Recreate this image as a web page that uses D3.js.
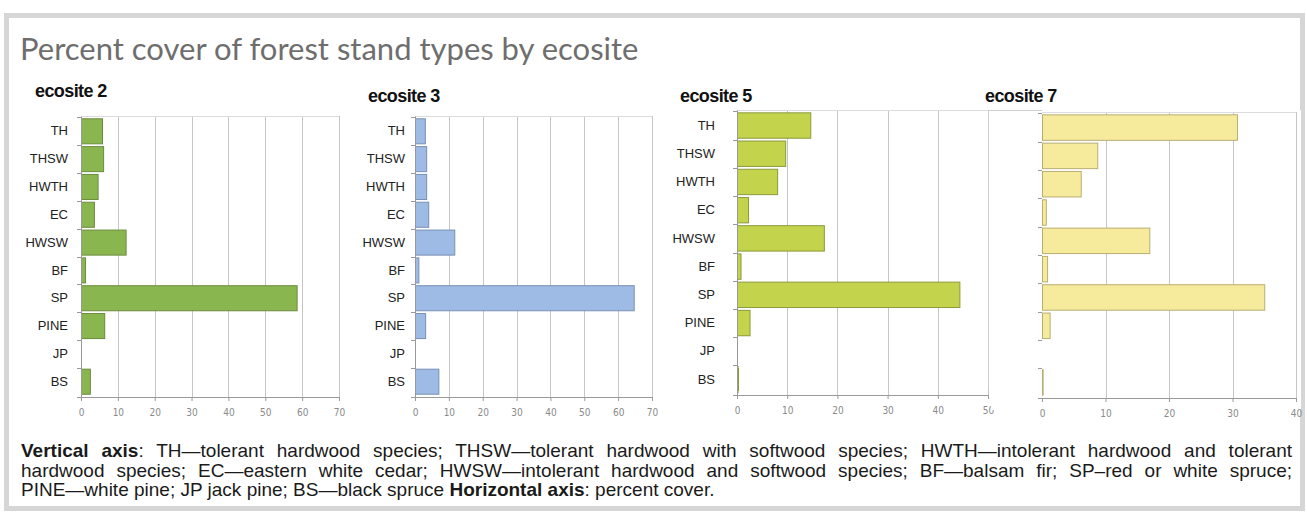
<!DOCTYPE html>
<html><head><meta charset="utf-8">
<script src="https://cdn.jsdelivr.net/npm/d3@7"></script>
<style>
body{margin:0;background:#fff;}
svg text{font-family:"Liberation Sans",Arial,sans-serif;}
#cap{position:absolute;left:21px;top:441px;width:1271px;font-family:"Liberation Sans",Arial,sans-serif;font-size:19px;line-height:19.5px;color:#1a1a1a;}
#cap div.j{text-align:justify;text-align-last:justify;white-space:nowrap;}
#cap b{font-weight:bold;}
</style></head><body>
<svg id="c" width="1307" height="519" style="position:absolute;left:0;top:0"></svg>
<div id="cap"></div>
<script>
const categories = ["TH","THSW","HWTH","EC","HWSW","BF","SP","PINE","JP","BS"];
const ecosite2 = [5.7,6.0,4.5,3.5,12.1,1.1,58.5,6.3,0,2.4];
const ecosite3 = [2.9,3.3,3.3,3.9,11.6,1.0,64.6,3.0,0,6.9];
const ecosite5 = [14.6,9.6,8.0,2.2,17.3,0.7,44.3,2.5,0,0.2];
const ecosite7 = [30.7,8.7,6.1,0.6,16.9,0.8,35.0,1.2,0,0.1];
const panelTitles = ["ecosite 2","ecosite 3","ecosite 5","ecosite 7"];
const ticks2 = [0,10,20,30,40,50,60,70];
const ticks3 = [0,10,20,30,40,50,60,70];
const ticks5 = [0,10,20,30,40,50];
const ticks7 = [0,10,20,30,40];
const titleText = "Percent cover of forest stand types by ecosite";

const svg = d3.select("#c");
svg.append("rect").attr("x",6.5).attr("y",15.5).attr("width",1296).attr("height",493)
  .attr("fill","#fff").attr("stroke","#d6d6d6").attr("stroke-width",5);
svg.append("text").attr("x",20).attr("y",60).text(titleText)
  .style("font-family","Lato, 'Open Sans', sans-serif").style("font-size","31px")
  .attr("fill","#6e6e6e");

const panels = [
  {values:ecosite2, ticks:ticks2, title:panelTitles[0], x0:81, x1:339, top:116, bottom:397, labPad:13, titleX:35, titleY:97,
   fill:"#8ab64f", stroke:"#6b8c3c"},
  {values:ecosite3, ticks:ticks3, title:panelTitles[1], x0:415, x1:652, top:116, bottom:397, labPad:10, titleX:368, titleY:102,
   fill:"#9dbbe4", stroke:"#7890b4"},
  {values:ecosite5, ticks:ticks5, title:panelTitles[2], x0:737, x1:988, top:110, bottom:395, labPad:22, titleX:680, titleY:102,
   fill:"#c3d34c", stroke:"#8c9a3c"},
  {values:ecosite7, ticks:ticks7, title:panelTitles[3], x0:1042, x1:1296, top:112, bottom:398, labPad:9, titleX:985, titleY:102,
   fill:"#f6eb9d", stroke:"#b9ae72", panel:true}
];

svg.append("defs").append("clipPath").attr("id","clip7")
  .append("rect").attr("x",994).attr("y",100).attr("width",310).attr("height",340);

panels.forEach((p,i)=>{
  const g = svg.append("g");
  if(p.panel){
    g.append("rect").attr("x",991).attr("y",110).attr("width",310).attr("height",300).attr("fill","#fff");
    g.append("path").attr("d","M988.5,388V110.5H"+p.x0).attr("fill","none").attr("stroke","#cfcfcf");
  }
  g.append("text").attr("x",p.titleX).attr("y",p.titleY).text(p.title)
    .style("font-size","18px").style("font-weight","bold").style("letter-spacing","-0.6px").attr("fill","#111");
  const x = d3.scaleLinear().domain([0,d3.max(p.ticks)]).range([p.x0,p.x1]);
  const y = d3.scaleBand().domain(categories).range([p.top,p.bottom]).padding(0.1);
  g.selectAll(".grid").data(p.ticks.filter(t=>t>0)).join("line")
    .attr("x1",d=>Math.round(x(d))+0.5).attr("x2",d=>Math.round(x(d))+0.5)
    .attr("y1",p.top).attr("y2",p.bottom).attr("stroke","#c6c6c6");
  g.append("line").attr("x1",p.x0).attr("x2",p.x1).attr("y1",p.top+0.5).attr("y2",p.top+0.5).attr("stroke","#dcdcdc");
  g.selectAll(".bar").data(categories.map((c,k)=>({c,v:p.values[k]}))).join("rect")
    .attr("x",x(0)+0.5).attr("y",d=>y(d.c)).attr("height",y.bandwidth())
    .attr("width",d=>Math.max(0,x(d.v)-x(0))).attr("fill",p.fill)
    .attr("stroke",d=>d.v>0?p.stroke:"none").attr("stroke-width",1);
  const xa = g.append("g").attr("transform",`translate(0,${p.bottom})`)
    .call(d3.axisBottom(x).tickValues(p.ticks).tickSize(4).tickPadding(8).tickSizeOuter(0));
  xa.select(".domain").attr("stroke","#9a9a9a");
  xa.selectAll(".tick line").attr("stroke","#9a9a9a");
  xa.selectAll("text").style("font-size","10px").attr("fill","#8a8a8a")
    .style("font-family","'Liberation Sans Narrow','DejaVu Sans Condensed',sans-serif");
  const ya = g.append("g").attr("transform",`translate(${p.x0},0)`)
    .call(d3.axisLeft(y).tickSize(0).tickPadding(p.labPad));
  ya.select(".domain").attr("stroke","#9a9a9a");
  ya.selectAll("text").style("font-size","13px").attr("fill","#222");
  if(p.panel) ya.attr("clip-path","url(#clip7)");
  const bounds = categories.map(c=>y(c)-y.step()*y.paddingInner()/2).concat([p.bottom]);
  g.selectAll(".bt").data(bounds).join("line")
    .attr("x1",p.x0-4).attr("x2",p.x0).attr("y1",d=>Math.round(d)+0.5).attr("y2",d=>Math.round(d)+0.5)
    .attr("stroke","#9a9a9a");
});

const cap = d3.select("#cap");
cap.append("div").attr("class","j").html("<b>Vertical axis</b>: TH—tolerant hardwood species; THSW—tolerant hardwood with softwood species; HWTH—intolerant hardwood and tolerant");
cap.append("div").attr("class","j").html("hardwood species; EC—eastern white cedar; HWSW—intolerant hardwood and softwood species; BF—balsam fir; SP–red or white spruce;");
cap.append("div").html("PINE—white pine; JP jack pine; BS—black spruce <b>Horizontal axis</b>: percent cover.");
</script>
</body></html>
